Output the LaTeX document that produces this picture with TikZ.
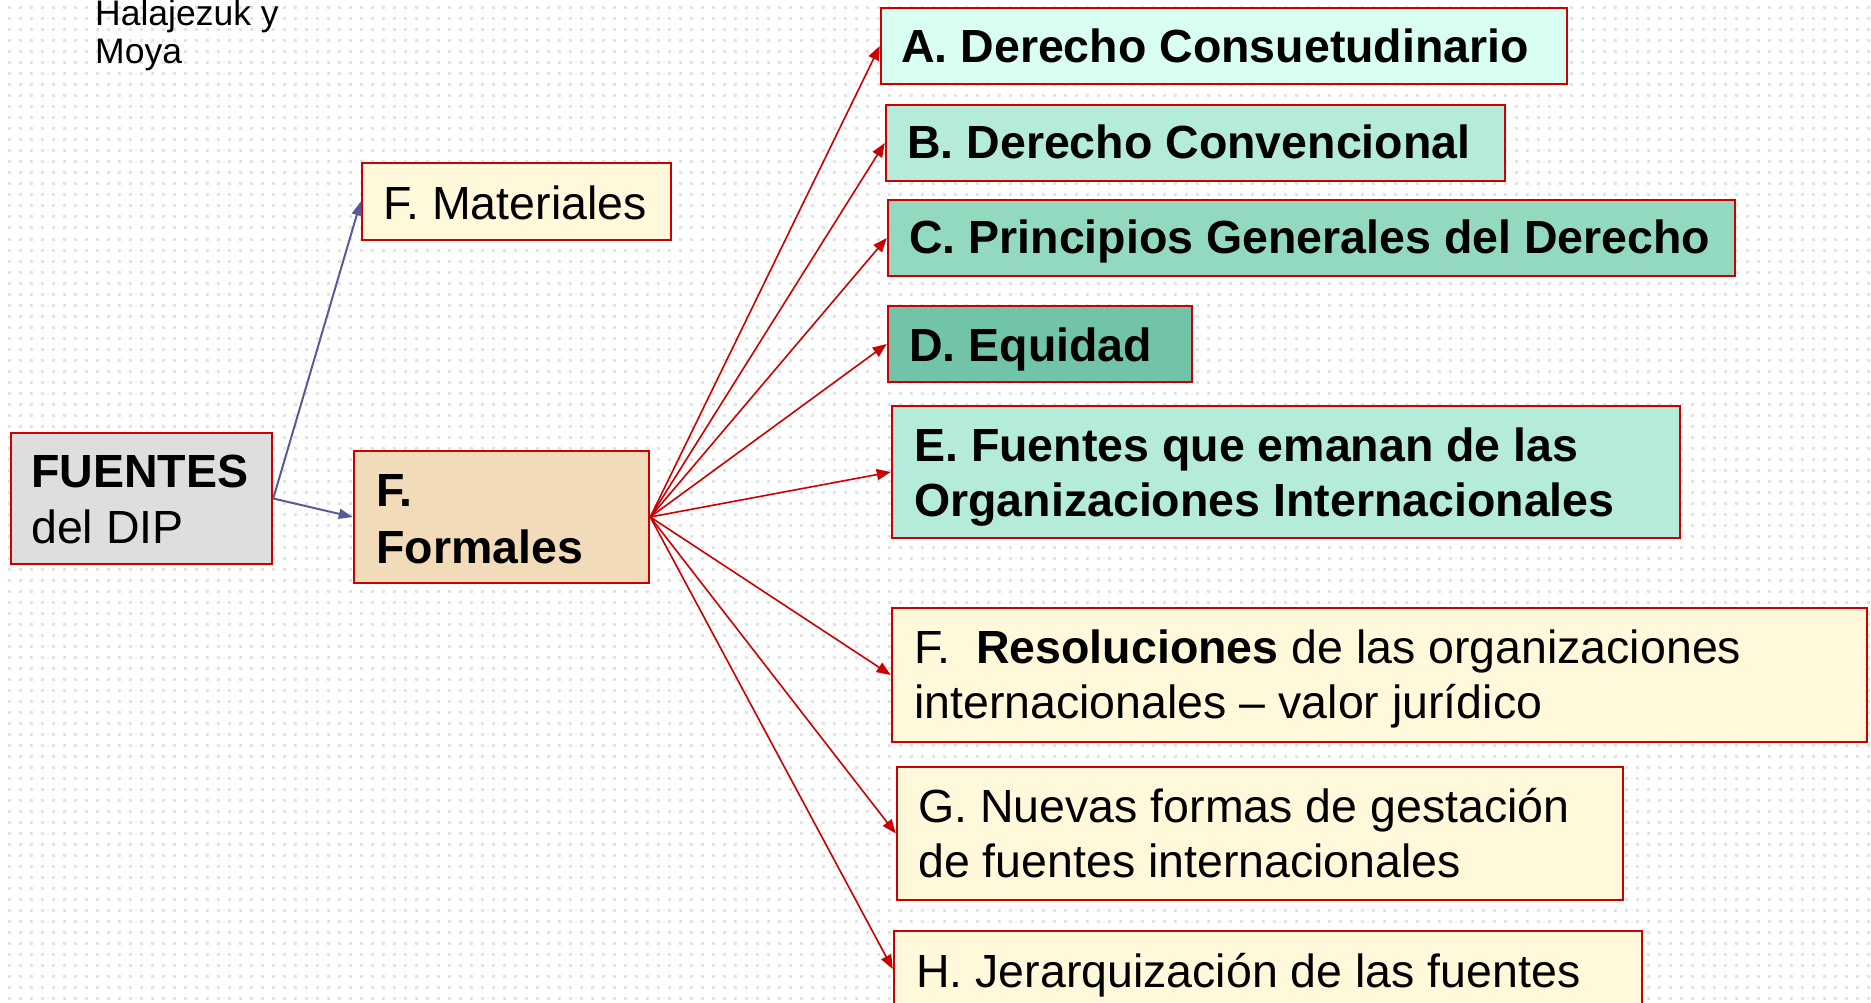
\documentclass[tikz,border=0pt]{standalone}
\usepackage{fontspec}
\setmainfont{Liberation Sans}
\usetikzlibrary{arrows.meta}
\definecolor{bord}{HTML}{CC0000}
\definecolor{blu}{HTML}{5A5A96}
\definecolor{dotc}{HTML}{E2E2E2}
\definecolor{cgrey}{HTML}{DEDEDE}
\definecolor{cyel}{HTML}{FFF8DA}
\definecolor{cwheat}{HTML}{F2DBB8}
\definecolor{cA}{HTML}{D9FFF2}
\definecolor{cB}{HTML}{B4EBDA}
\definecolor{cC}{HTML}{93D9C0}
\definecolor{cD}{HTML}{72C4A8}
\begin{document}
\begin{tikzpicture}[x=1pt,y=-1pt,
  box/.style={draw=bord, line width=2.5pt, inner sep=0pt, rectangle},
  lbl/.style={anchor=base west, inner sep=0pt, font=\fontsize{46.5}{55}\selectfont},
  blbl/.style={lbl, font=\fontsize{46.5}{55}\selectfont\bfseries},
  slbl/.style={anchor=base west, inner sep=0pt, font=\fontsize{35.5}{40}\selectfont},
  redarrow/.style={draw=bord, line width=1.6pt, -{Triangle[length=14pt,width=11pt]}},
  bluearrow/.style={draw=blu, line width=2pt, -{Triangle[length=14pt,width=10pt]}},
  dotrow/.style={draw=dotc, line width=3pt, dash pattern=on 3pt off 8pt}
]
\useasboundingbox (0,0) rectangle (1871,1003);
\clip (0,0) rectangle (1871,1003);
\fill[white] (0,0) rectangle (1871,1003);
\foreach \r in {0,...,90} \draw[dotrow] (7.5,{8+11*\r}) -- (1871,{8+11*\r});

% boxes
\node[box, fill=cgrey, minimum width=261pt, minimum height=131pt] (fuentes) at (141.5,498.5) {};
\node[box, fill=cyel, minimum width=309pt, minimum height=77pt] (mat) at (516.5,201.5) {};
\node[box, fill=cwheat, minimum width=295pt, minimum height=132pt] (form) at (501.5,517) {};
\node[box, fill=cA, minimum width=686pt, minimum height=76pt] (A) at (1224,46) {};
\node[box, fill=cB, minimum width=619pt, minimum height=76pt] (B) at (1195.5,143) {};
\node[box, fill=cC, minimum width=847pt, minimum height=76pt] (C) at (1311.5,238) {};
\node[box, fill=cD, minimum width=304pt, minimum height=76pt] (D) at (1040,344) {};
\node[box, fill=cB, minimum width=788pt, minimum height=132pt] (E) at (1286,472) {};
\node[box, fill=cyel, minimum width=975pt, minimum height=134pt] (F) at (1379.5,675) {};
\node[box, fill=cyel, minimum width=726pt, minimum height=133pt] (G) at (1260,833.5) {};
\node[box, fill=cyel, minimum width=748pt, minimum height=76pt] (H) at (1268,969) {};

% connectors
\draw[bluearrow] (fuentes.east) -- (mat.west);
\draw[bluearrow] (fuentes.east) -- (form.west);
\foreach \t in {A,B,C,D,E,F,G,H} \draw[redarrow] (form.east) -- (\t.west);

% texts
\node[slbl] (t0a) at (95,26) {Halajezuk y};
\node[slbl] (t0b) at (95,64) {Moya};
\node[blbl] (t1a) at (31,487) {FUENTES};
\node[lbl] (t1b) at (31,543) {del DIP};
\node[lbl] (t2) at (383,219) {F. Materiales};
\node[blbl] (t3a) at (376,506) {F.};
\node[blbl] (t3b) at (376,563) {Formales};
\node[blbl] (tA) at (901,63) {A. Derecho Consuetudinario};
\node[blbl] (tB) at (907,159) {B. Derecho Convencional};
\node[blbl] (tC) at (909,254) {C. Principios Generales del Derecho};
\node[blbl] (tD) at (909,361) {D. Equidad};
\node[blbl] (tEa) at (914,461) {E. Fuentes que emanan de las};
\node[blbl] (tEb) at (914,516) {Organizaciones Internacionales};
\node[lbl] (tFa) at (914,663) {F.~~\textbf{Resoluciones} de las organizaciones};
\node[lbl] (tFb) at (914,718) {internacionales – valor jurídico};
\node[lbl] (tGa) at (918,822) {G. Nuevas formas de gestación};
\node[lbl] (tGb) at (918,877) {de fuentes internacionales};
\node[lbl] (tH) at (916,987) {H. Jerarquización de las fuentes};
\end{tikzpicture}
\end{document}
